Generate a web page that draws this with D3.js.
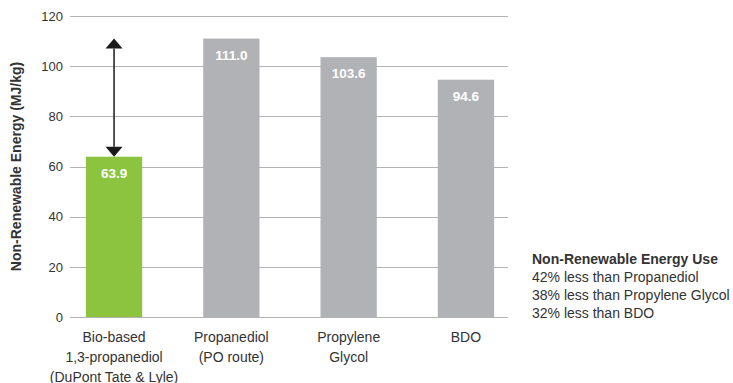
<!DOCTYPE html>
<html>
<head>
<meta charset="utf-8">
<script src="https://cdn.jsdelivr.net/npm/d3@7"></script>
<style>
  html, body { margin: 0; padding: 0; background: #fff; }
  svg { display: block; font-family: "Liberation Sans", Arial, Helvetica, sans-serif; }
</style>
</head>
<body>
<svg id="chart" width="733" height="383"></svg>
<script>
// Non-renewable energy use by product (MJ/kg)
const categories = [
  ["Bio-based", "1,3-propanediol", "(DuPont Tate & Lyle)"],
  ["Propanediol", "(PO route)"],
  ["Propylene", "Glycol"],
  ["BDO"]
];
const values = [63.9, 111.0, 103.6, 94.6];
const barColors = ["#8cc43f", "#b1b2b6", "#b1b2b6", "#b1b2b6"];
const yTicks = [0, 20, 40, 60, 80, 100, 120];
const yTitle = "Non-Renewable Energy (MJ/kg)";
const noteTitle = "Non-Renewable Energy Use";
const noteLines = [
  "42% less than Propanediol",
  "38% less than Propylene Glycol",
  "32% less than BDO"
];

const svg = d3.select("#chart");
const textColor = "#333333";

const y = d3.scaleLinear().domain([0, 120]).range([317, 16]);
const x = d3.scaleBand()
  .domain(d3.range(values.length))
  .range([55.4, 524.6])
  .paddingInner(0.52)
  .paddingOuter(0.26);

const gridX0 = 70, gridX1 = 508;

// Horizontal gridlines and tick labels
const yAxis = d3.axisLeft(y).tickValues(yTicks).tickSize(0).tickPadding(0);
const gy = svg.append("g").attr("transform", `translate(${gridX0 - 7},0)`).call(yAxis);
gy.select(".domain").remove();
gy.selectAll("text")
  .attr("font-size", 13)
  .attr("font-family", "Liberation Sans, Arial, sans-serif")
  .attr("fill", textColor);

svg.append("g").selectAll("line").data(yTicks).join("line")
  .attr("x1", gridX0).attr("x2", gridX1)
  .attr("y1", d => Math.round(y(d)) + 0.5).attr("y2", d => Math.round(y(d)) + 0.5)
  .attr("stroke", "#b3b3b3").attr("stroke-width", 1);

// Bars
svg.append("g").selectAll("rect").data(values).join("rect")
  .attr("x", (d, i) => x(i))
  .attr("width", x.bandwidth())
  .attr("y", d => y(d))
  .attr("height", d => y(0) - y(d))
  .attr("fill", (d, i) => barColors[i]);

// Redraw baseline over bars
svg.append("line")
  .attr("x1", gridX0).attr("x2", gridX1)
  .attr("y1", Math.round(y(0)) + 0.5).attr("y2", Math.round(y(0)) + 0.5)
  .attr("stroke", "#b3b3b3");

// Value labels inside bars
svg.append("g").selectAll("text").data(values).join("text")
  .attr("x", (d, i) => x(i) + x.bandwidth() / 2)
  .attr("y", d => y(d) + 21)
  .attr("text-anchor", "middle")
  .attr("font-size", 13.5)
  .attr("font-weight", "bold")
  .attr("fill", "#ffffff")
  .text(d => d.toFixed(1));

// Category labels
const gx = svg.append("g");
categories.forEach((lines, i) => {
  const cx = x(i) + x.bandwidth() / 2;
  const t = gx.append("text")
    .attr("x", cx)
    .attr("y", 341.5)
    .attr("text-anchor", "middle")
    .attr("font-size", 14)
    .attr("fill", textColor);
  lines.forEach((ln, j) => {
    t.append("tspan").attr("x", cx).attr("dy", j === 0 ? 0 : 20).text(ln);
  });
});

// Y axis title
svg.append("text")
  .attr("transform", `translate(20.5,${(y(0) + y(120)) / 2}) rotate(-90)`)
  .attr("text-anchor", "middle")
  .attr("font-size", 14)
  .attr("font-weight", "bold")
  .attr("fill", textColor)
  .text(yTitle);

// Double-headed arrow from bio-based value up to the PO-route value
const ax = x(0) + x.bandwidth() / 2;
const yLow = y(values[0]), yHigh = y(values[1]);
const headW = 8.5, headH = 10;
svg.append("line")
  .attr("x1", ax).attr("x2", ax)
  .attr("y1", yHigh + headH).attr("y2", yLow - headH)
  .attr("stroke", "#1a1a1a").attr("stroke-width", 1.5);
svg.append("path")
  .attr("d", `M${ax},${yHigh} L${ax + headW},${yHigh + headH} L${ax - headW},${yHigh + headH} Z`)
  .attr("fill", "#1a1a1a");
svg.append("path")
  .attr("d", `M${ax},${yLow} L${ax + headW},${yLow - headH} L${ax - headW},${yLow - headH} Z`)
  .attr("fill", "#1a1a1a");

// Side note
const note = svg.append("text")
  .attr("x", 532).attr("y", 263.5)
  .attr("font-size", 14)
  .attr("fill", textColor);
note.append("tspan").attr("x", 532).attr("font-weight", "bold").text(noteTitle);
noteLines.forEach(ln => {
  note.append("tspan").attr("x", 532).attr("dy", 18.3).text(ln);
});
</script>
</body>
</html>
